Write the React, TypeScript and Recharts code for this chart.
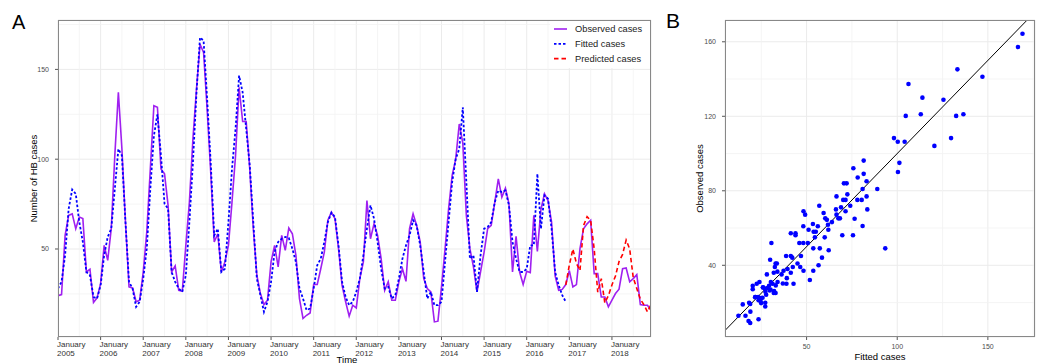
import React from "react"
import { CartesianGrid, Line, LineChart, ReferenceLine, Scatter, ScatterChart, XAxis, YAxis } from "recharts"

const FONT = "'Liberation Sans', Arial, Helvetica, sans-serif"

// Monthly series, January 2005 to December 2018
const years = [2005, 2006, 2007, 2008, 2009, 2010, 2011, 2012, 2013, 2014, 2015, 2016, 2017, 2018]

const observedCases = [
    24, 24.6, 57.6, 68.7, 69.6, 61.3, 67.8, 66.9, 37.2, 38.7, 20.2, 22.8,
    30.7, 52, 43.7, 61.3, 102, 137.2, 105.7, 65, 28.9, 28.3, 20.6, 21.5,
    37.2, 59.4, 94.6, 129.8, 128.9, 94.6, 91.9, 74.3, 37.2, 40.6, 27, 26.5,
    52, 76, 111.3, 139, 164, 159.4, 127.8, 93, 53.9, 58.5, 37.2, 42.8,
    52, 76, 102, 140, 121, 121, 94.6, 61.3, 35.4, 25.2, 19.1, 21.5,
    42.8, 52, 40, 57.6, 49.3, 61.7, 58.5, 46.5, 22.4, 11.3, 13.1, 14.4,
    30.2, 30.2, 39, 48.3, 66, 70.5, 66.9, 50.2, 29.8, 20.6, 12.6, 18.7,
    17.2, 33.5, 42.8, 77, 55.7, 64, 57.6, 44.6, 27, 31.7, 21.5, 21.5,
    31.7, 39, 32, 61.3, 69.6, 63.1, 53.9, 33.5, 28, 26.1, 9.4, 9.8,
    28.9, 50, 72.4, 91, 100, 119.6, 109, 68.7, 50.2, 40, 26.1, 37.2,
    48.3, 61.3, 63.1, 76, 89, 78.9, 83.9, 75.2, 37.2, 57, 37.2, 30.2,
    37.6, 36.9, 68.7, 48.7, 72, 80.7, 77, 65, 35, 27, 27.5, 30.2,
    38, 28.9, 30.2, 50.2, 61.3, 64, 66, 36.3, 36.3, 23.3, 23.3, 17.8,
    21.5, 25.2, 27.6, 39, 39.4, 31.7, 33.5, 35.7, 19.1, 18.7, 18.7, 15.9,
]

const fittedCases = [
    28, 31.7, 46.5, 72.4, 83.1, 80.7, 65, 53.9, 37.2, 35.4, 23.3, 22.4,
    29.8, 46.5, 56.7, 61.3, 83.5, 105.7, 102, 65, 31.7, 28, 17.8, 20.6,
    33.5, 50.2, 83.5, 113, 125, 102, 75.2, 72.4, 37.2, 31.7, 28, 26.1,
    35.4, 65, 98.3, 137, 167.8, 166, 133.5, 98.3, 57.6, 61.3, 37.2, 39,
    65, 94.6, 116.9, 146.5, 137.2, 116.9, 96.5, 65, 33.5, 24.3, 15, 20.6,
    31.7, 48.3, 53.9, 55.7, 56.7, 56.1, 50.2, 42.8, 28, 22.4, 15.9, 16.9,
    28, 40.9, 44.6, 53.9, 65, 70.2, 67.8, 52, 31.7, 23.3, 18.7, 20.6,
    26.1, 33.5, 46.5, 61.3, 74.3, 66.9, 53.9, 39, 28, 28.9, 22.4, 24.3,
    33.5, 44.6, 52, 57.6, 66, 63.1, 52, 37.2, 22.4, 26.1, 18.7, 18.7,
    20.6, 42.8, 65, 87.2, 100.2, 105.7, 128.9, 87.2, 44.6, 46.5, 26.1, 46.5,
    61.3, 62.2, 65, 76, 82.6, 81.7, 82.6, 74.3, 53.9, 44.6, 37.2, 37.2,
    39, 52, 52, 91.9, 61.3, 79.8, 78, 61.3, 37.2, 29.8, 24.3, 20.6,
]

// Predictions start at December 2016 (month index 143)
const predictedStart = 143
const predictedCases = [
    30, 41, 50, 42, 38, 63, 68, 66, 50, 26, 33.5, 20, 24,
    30, 35, 43, 47, 55, 50, 34, 28, 22, 19, 15, 19,
]

// Panel B: fitted vs observed pairs
const scatterFitted = [
    169.1, 166.6, 147, 133.2, 106.2, 113.9, 125.5, 104.7, 113, 132.5, 136.5, 98.2, 100.3, 104.1, 129.7, 120.5, 101.2, 100.4,
    81.5, 75.8, 81.5, 83.1, 78.2, 70.6, 72.1, 89, 80.9, 72.5, 66.5, 83.1, 70.2, 71.5, 78, 80.4, 74.1, 57, 66.2, 69, 83.5,
    71.5, 48.3, 49.2, 59.4, 66.5, 67.5, 68.4, 60.3, 61.2, 64, 76.5, 61.8, 62, 56.2, 53.5, 48.2, 51.1, 53.9, 55.1, 41.3,
    43.9, 43.9, 69.7, 80.9, 75.6, 54.6, 60, 46, 48.2, 50.7, 30.6, 53.7, 57.3, 62.2, 93.4, 58.5, 38.7, 41.3, 42.1, 46.9,
    29.9, 45, 46.5, 56.6, 42.4, 39.5, 41.3, 48.3, 53.7, 51.8, 32.9, 33.6, 32.5, 31.9, 28.1, 37.3, 36.2, 38.9, 42.8, 30.3,
    31.2, 33, 34, 29.3, 22.5, 24, 20.3, 20.3, 26, 26.9, 28.4, 29.7, 31.9, 32.9, 21.8, 23.3, 24.8, 25.7, 27.7, 23.5, 24.9,
    27.2, 27.2, 18.3, 18.9, 14.8, 19, 12.4, 16.3, 23.5, 18, 18.9, 25.9, 27.3, 30.1, 32.1, 21.6, 24.6, 36.9, 39.1, 33.9,
]
const scatterObserved = [
    164.3, 157.2, 141.2, 145.2, 137.3, 130, 128.9, 120.2, 121.1, 120.2, 121.1, 108.3, 106.3, 106.3, 108.3, 104.1, 95, 90.1,
    96.2, 92.1, 89.1, 85.1, 87.1, 84, 84, 81, 81, 78.1, 77, 77, 75.1, 75.1, 75.1, 75.1, 72, 72, 70, 71.1, 70,
    69, 69, 67.2, 68.1, 67.2, 65.2, 65.2, 65.2, 64.4, 63.2, 65, 61.8, 59.1, 61, 62.2, 61, 59.1, 58, 58, 57.2,
    57.2, 56.1, 56.1, 61.1, 56.1, 55, 55, 52, 52, 52, 52, 49.1, 49.1, 48.1, 49.1, 44.1, 45, 45, 44.1, 45,
    43, 41, 39.1, 40, 39.1, 38, 36, 37.1, 37.1, 32.1, 41, 41, 39.1, 36, 35.1, 37.1, 35.1, 30.1, 30.1, 31,
    30.1, 29.2, 31, 29, 30.1, 31, 29, 27.2, 28.2, 27.5, 27.8, 26.5, 25.1, 25.1, 23, 23, 22.4, 22.6, 24.2, 21.2, 19.7,
    19.9, 17.9, 19.9, 19.2, 19, 15.1, 12.9, 12.9, 11, 10.1, 9, 28.1, 25.8, 27, 26.2, 22.9, 20.8, 30.2, 33.1, 36.6,
]

const seriesData = observedCases.map((value, i) => ({
    month: i,
    observed: value,
    fitted: i < fittedCases.length ? fittedCases[i] : null,
    predicted: i >= predictedStart ? predictedCases[i - predictedStart] : null,
}))

const scatterData = scatterFitted.map((f, i) => ({ fitted: f, observed: scatterObserved[i] }))

const yearTicks = years.map((_, k) => k * 12)
const midYear = years.map((_, k) => k * 12 + 6)

const gridMajor = "#ebebeb"
const gridMinor = "#f3f3f3"
const tickStyle = { fontSize: 7, fill: "#4d4d4d", fontFamily: FONT }

function YearTick({ x, y, payload }: any) {
    const year = years[Math.round(payload.value / 12)]
    return (
        <text x={x} y={y} fill="#333333" fontSize={8} fontFamily={FONT} textAnchor="start">
            <tspan x={x - 1} dy={4.5}>January</tspan>
            <tspan x={x - 1} dy={9.5}>{year}</tspan>
        </text>
    )
}

function SideTitle({ value, cx, cy }: any) {
    return (
        <text transform={`translate(${cx},${cy}) rotate(-90)`} textAnchor="middle" dominantBaseline="central" fontSize={9.5} fontFamily={FONT} fill="#000">
            {value}
        </text>
    )
}

function BottomTitle({ value, cx, cy }: any) {
    return (
        <text x={cx} y={cy} textAnchor="middle" dominantBaseline="central" fontSize={9.5} fontFamily={FONT} fill="#000">
            {value}
        </text>
    )
}

function LegendBox() {
    const items = [
        { label: "Observed cases", color: "#a020f0", dash: undefined, width: 1.6 },
        { label: "Fitted cases", color: "#0000ff", dash: "2.5 2", width: 1.8 },
        { label: "Predicted cases", color: "#ff0000", dash: "4.5 3", width: 1.6 },
    ]
    return (
        <svg width={101} height={48} style={{ position: "absolute", left: 550, top: 20, background: "#fff" }}>
            {items.map((it, k) => {
                const cy = 9 + k * 14.8
                return (
                    <g key={it.label}>
                        <line x1={4} x2={17} y1={cy} y2={cy} stroke={it.color} strokeWidth={it.width} strokeDasharray={it.dash} />
                        <text x={25} y={cy} dominantBaseline="central" fontSize={9.3} fontFamily={FONT} fill="#222">
                            {it.label}
                        </text>
                    </g>
                )
            })}
        </svg>
    )
}

export default function App() {
    return (
        <div style={{ position: "relative", width: 1042, height: 364, background: "#fff", fontFamily: FONT }}>
            <style>{`body{margin:0}`}</style>

            {/* Panel A: time series */}
            <div style={{ position: "absolute", left: 0, top: 0 }}>
                <LineChart width={660} height={364} data={seriesData} margin={{ top: 20, right: 9, bottom: 0, left: 0 }}>
                    <CartesianGrid stroke={gridMajor} />
                    {midYear.map((m) => (
                        <ReferenceLine key={`vx${m}`} x={m} stroke={gridMinor} strokeWidth={0.8} />
                    ))}
                    {[25, 75, 125, 175].map((v) => (
                        <ReferenceLine key={`hy${v}`} y={v} stroke={gridMinor} strokeWidth={0.8} />
                    ))}
                    <XAxis
                        dataKey="month"
                        type="number"
                        domain={[0, 167]}
                        ticks={yearTicks}
                        allowDataOverflow
                        height={27}
                        axisLine={false}
                        tickLine={{ stroke: "#555" }}
                        tickSize={3}
                        tickMargin={2}
                        tick={<YearTick />}
                        interval={0}
                        label={<BottomTitle value="Time" cx={347} cy={359} />}
                    />
                    <YAxis
                        type="number"
                        domain={[1, 177.5]}
                        ticks={[50, 100, 150]}
                        allowDataOverflow
                        width={58}
                        axisLine={false}
                        tickLine={{ stroke: "#555" }}
                        tickSize={3}
                        tickMargin={6}
                        tick={tickStyle}
                        label={<SideTitle value="Number of HB cases" cx={33} cy={178.5} />}
                    />
                    <Line dataKey="observed" stroke="#a020f0" strokeWidth={1.6} dot={false} isAnimationActive={false} />
                    <Line dataKey="fitted" stroke="#0000ff" strokeWidth={1.8} strokeDasharray="2.5 2" dot={false} isAnimationActive={false} />
                    <Line dataKey="predicted" stroke="#ff0000" strokeWidth={1.6} strokeDasharray="4.5 3" dot={false} isAnimationActive={false} />
                </LineChart>
                <LegendBox />
                <div style={{ position: "absolute", left: 58, top: 20, width: 593, height: 317, boxSizing: "border-box", border: "1px solid #888", pointerEvents: "none" }} />
            </div>

            {/* Panel B: fitted vs observed */}
            <div style={{ position: "absolute", left: 660, top: 0 }}>
                <ScatterChart width={382} height={364} margin={{ top: 20, right: 7, bottom: 0, left: 0 }}>
                    <CartesianGrid stroke={gridMajor} />
                    {[25, 75, 125, 175].map((v) => (
                        <ReferenceLine key={`bx${v}`} x={v} stroke={gridMinor} strokeWidth={0.8} />
                    ))}
                    {[20, 60, 100, 140].map((v) => (
                        <ReferenceLine key={`by${v}`} y={v} stroke={gridMinor} strokeWidth={0.8} />
                    ))}
                    <XAxis
                        dataKey="fitted"
                        type="number"
                        domain={[5, 176]}
                        ticks={[50, 100, 150]}
                        allowDataOverflow
                        height={27}
                        axisLine={false}
                        tickLine={{ stroke: "#555" }}
                        tickSize={3}
                        tickMargin={2}
                        tick={{ ...tickStyle, dy: 2 }}
                        label={<BottomTitle value="Fitted cases" cx={220} cy={356} />}
                    />
                    <YAxis
                        dataKey="observed"
                        type="number"
                        domain={[1.5, 171.7]}
                        ticks={[40, 80, 120, 160]}
                        allowDataOverflow
                        width={65}
                        axisLine={false}
                        tickLine={{ stroke: "#555" }}
                        tickSize={3}
                        tickMargin={6}
                        tick={tickStyle}
                        label={<SideTitle value="Observed cases" cx={39} cy={178.5} />}
                    />
                    <ReferenceLine
                        segment={[{ x: 0, y: 0 }, { x: 200, y: 200 }]}
                        stroke="#000"
                        strokeWidth={1}
                        ifOverflow="hidden"
                    />
                    <Scatter
                        data={scatterData}
                        isAnimationActive={false}
                        shape={(p: any) => <circle cx={p.cx} cy={p.cy} r={2.3} fill="#0000ff" />}
                    />
                </ScatterChart>
                <div style={{ position: "absolute", left: 65, top: 20, width: 310, height: 317, boxSizing: "border-box", border: "1px solid #888", pointerEvents: "none" }} />
            </div>

            <svg width={1042} height={364} style={{ position: "absolute", left: 0, top: 0, pointerEvents: "none" }}>
                <text x={12} y={29.3} fontSize={20} fontFamily={FONT} fill="#000">A</text>
                <text x={666} y={28.3} fontSize={21} fontFamily={FONT} fill="#000">B</text>
            </svg>
        </div>
    )
}
